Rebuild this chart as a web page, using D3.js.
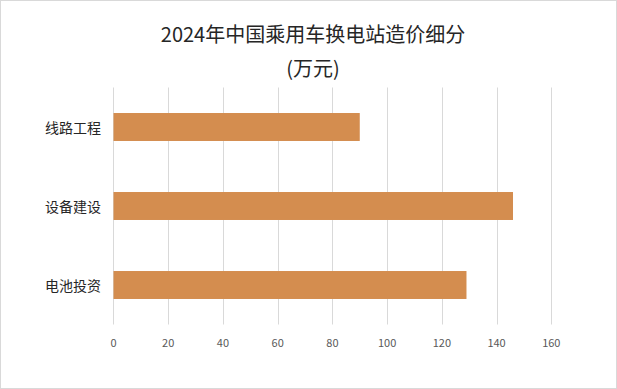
<!DOCTYPE html>
<html><head><meta charset="utf-8">
<script src="https://cdn.jsdelivr.net/npm/d3@7"></script>
<style>body{margin:0;background:#fff}svg{display:block}</style>
</head><body>
<svg id="chart" width="617" height="389"></svg>
<script>
const categories = ["线路工程", "设备建设", "电池投资"];
const values = [90, 146, 129];
const tickValues = [0, 20, 40, 60, 80, 100, 120, 140, 160];
const titleLines = ["2024年中国乘用车换电站造价细分", "(万元)"];

const svg = d3.select("#chart");
const W = 617, H = 389;
const font = "'Noto Sans CJK SC', 'Noto Sans', sans-serif";
svg.append("rect").attr("x", 0.5).attr("y", 0.5).attr("width", W - 1).attr("height", H - 1)
  .attr("fill", "#fff").attr("stroke", "#d9d9d9");

const m = {left: 113.5, right: 551.3, top: 87.5, bottom: 324.5};
const x = d3.scaleLinear().domain([0, 160]).range([m.left, m.right]);
const y = d3.scaleBand().domain(categories).range([m.top, m.bottom]).paddingInner(0.646).paddingOuter(0.323);

// gridlines
svg.append("g").selectAll("line").data(tickValues.slice(1)).join("line")
  .attr("x1", d => Math.round(x(d)) + 0.5).attr("x2", d => Math.round(x(d)) + 0.5)
  .attr("y1", m.top).attr("y2", m.bottom)
  .attr("stroke", "#d9d9d9").attr("stroke-width", 1);
// axis line
svg.append("line").attr("x1", Math.round(x(0)) - 0.5).attr("x2", Math.round(x(0)) - 0.5)
  .attr("y1", m.top).attr("y2", m.bottom).attr("stroke", "#d9d9d9");

// bars
svg.append("g").selectAll("rect").data(categories).join("rect")
  .attr("x", x(0)).attr("y", d => y(d))
  .attr("width", (d, i) => x(values[i]) - x(0))
  .attr("height", y.bandwidth())
  .attr("fill", "#D48D4F");

// category labels
svg.append("g").selectAll("text").data(categories).join("text")
  .attr("x", 101).attr("y", d => y(d) + y.bandwidth() / 2)
  .attr("text-anchor", "end").attr("dominant-baseline", "central")
  .attr("font-family", font).attr("font-size", 14).attr("fill", "#262626")
  .text(d => d);

// tick labels
svg.append("g").selectAll("text").data(tickValues).join("text")
  .attr("x", d => x(d)).attr("y", 342)
  .attr("text-anchor", "middle").attr("dominant-baseline", "central")
  .attr("font-family", font).attr("font-size", 11).attr("fill", "#595959")
  .text(d => d);

// title
svg.append("g").selectAll("text").data(titleLines).join("text")
  .attr("x", 313).attr("y", (d, i) => 42 + i * 34)
  .attr("text-anchor", "middle")
  .attr("font-family", font).attr("font-size", 20).attr("fill", "#262626")
  .text(d => d);
</script>
</body></html>
